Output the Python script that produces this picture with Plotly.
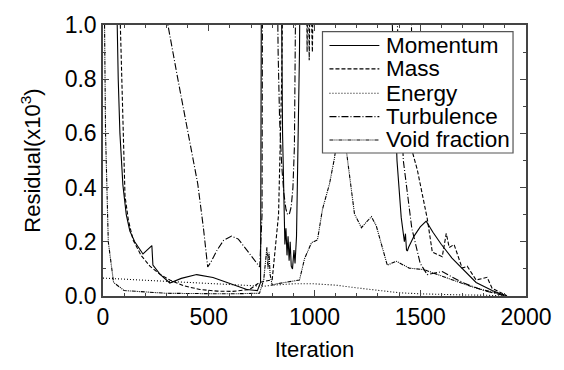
import plotly.graph_objects as go

# ---- data (iteration, residual x10^3) ----
mom_x = [60, 66, 72, 80, 94, 110, 127, 150, 189, 231, 236, 270, 316, 370, 443, 520, 600, 680,
         730, 745, 750,
         840, 849, 855, 860, 865, 870, 875, 880, 885, 890, 896, 903, 908, 915, 929, 935,
         1360, 1368, 1390, 1410, 1425, 1430, 1435, 1439, 1445, 1470, 1500, 1528, 1560, 1600,
         1650, 1698, 1764, 1840, 1906]
mom_y = [1.3, 1.0, 0.8, 0.6, 0.41, 0.3, 0.24, 0.2, 0.155, 0.186, 0.114, 0.08, 0.048, 0.065,
         0.079, 0.068, 0.045, 0.024, 0.02, 0.05, 1.5,
         1.5, 0.6, 0.35, 0.19, 0.25, 0.15, 0.22, 0.13, 0.2, 0.11, 0.1, 0.17, 0.12, 0.22, 0.9, 1.5,
         1.5, 1.0, 0.5, 0.29, 0.2, 0.23, 0.17, 0.166, 0.18, 0.22, 0.255, 0.276, 0.235, 0.19,
         0.14, 0.103, 0.05, 0.02, 0.0]

mass_x = [75, 82, 90, 104, 120, 142, 180, 222, 270, 316, 380, 458, 540, 613, 693, 740, 800,
          830, 845, 855,
          960, 965, 970, 975, 980, 990, 1000, 1455, 1462, 1486, 1510, 1533, 1557, 1604,
          1623, 1637, 1660, 1698, 1722, 1764, 1816, 1840, 1896, 1910]
mass_y = [1.2, 1.0, 0.7, 0.369, 0.28, 0.207, 0.15, 0.11, 0.08, 0.059, 0.038, 0.024, 0.018,
          0.017, 0.024, 0.05, 0.06, 0.3, 0.8, 1.5,
          1.5, 0.9, 1.3, 0.87, 1.2, 0.9, 1.5, 1.5, 0.534, 0.466, 0.38, 0.286, 0.162, 0.145,
          0.231, 0.179, 0.19, 0.103, 0.11, 0.059, 0.069, 0.028, 0.007, 0.0]

energy_x = [0, 100, 200, 300, 400, 500, 600, 700, 760, 800, 900, 1000, 1100, 1200,
            1300, 1400, 1500, 1600, 1700, 1800, 1900]
energy_y = [0.066, 0.062, 0.058, 0.054, 0.05, 0.046, 0.042, 0.038, 0.036, 0.04, 0.045, 0.045,
            0.04, 0.03, 0.02, 0.012, 0.008, 0.005, 0.004, 0.003, 0.0]

turb_x = [300, 307, 354, 401, 448, 475, 495, 510, 540, 570, 608, 640, 680, 720, 741, 752, 755,
          820, 828, 835, 845, 855, 865, 873, 882, 890, 898, 905, 910, 915,
          1385, 1392, 1420, 1460, 1500, 1533, 1570, 1604, 1650, 1700, 1800, 1906]
turb_y = [1.3, 1.0, 0.8, 0.6, 0.414, 0.25, 0.107, 0.125, 0.17, 0.205, 0.221, 0.21, 0.17,
          0.13, 0.107, 0.3, 1.5,
          1.5, 0.9, 0.65, 0.48, 0.38, 0.32, 0.30, 0.305, 0.33, 0.4, 0.55, 0.8, 1.5,
          1.5, 1.0, 0.5, 0.25, 0.12, 0.079, 0.085, 0.09, 0.07, 0.05, 0.02, 0.0]

void_x = [5, 12, 25, 50, 100, 300, 600, 740, 760, 775, 780, 785, 790, 800, 821, 929,
          953, 986, 1014, 1038, 1071, 1094, 1120, 1140, 1151, 1189, 1222, 1269, 1292,
          1344, 1387, 1448, 1519, 1560, 1650, 1760, 1900]
void_y = [1.2, 0.6, 0.2, 0.05, 0.02, 0.01, 0.008, 0.01, 0.06, 0.18, 0.1, 0.16, 0.08, 0.04,
          0.045, 0.059, 0.138, 0.197, 0.207, 0.321, 0.414, 0.507, 0.65, 0.66, 0.534, 0.303,
          0.252, 0.293, 0.259, 0.114, 0.128, 0.103, 0.097, 0.085, 0.06, 0.03, 0.004]

names = ["Momentum", "Mass", "Energy", "Turbulence", "Void fraction"]
dashes = ["solid", "4px,2px", "1px,2px", "7px,2px,1px,2px", "4px,1px,1px,1px,1px,1px"]
series = [(mom_x, mom_y), (mass_x, mass_y), (energy_x, energy_y),
          (turb_x, turb_y), (void_x, void_y)]

FONT = "Liberation Sans, Arial, sans-serif"
fig = go.Figure()
for (xs, ys), nm, ds in zip(series, names, dashes):
    fig.add_trace(go.Scatter(x=xs, y=ys, mode="lines", name=nm, showlegend=False,
                             line=dict(color="black", width=1.1, dash=ds)))

axis_common = dict(showgrid=False, zeroline=False, showline=True, linecolor="#444",
                   linewidth=1.5, mirror="allticks", ticks="inside", ticklen=6,
                   tickcolor="#444", tickwidth=1.3,
                   tickfont=dict(family=FONT, size=23, color="black"))
fig.update_xaxes(range=[0, 2000], dtick=500, tick0=0,
                 minor=dict(dtick=100, ticks="inside", ticklen=3, tickcolor="#444"),
                 title=dict(text="Iteration", font=dict(family=FONT, size=22, color="black"),
                            standoff=12),
                 **axis_common)
fig.update_yaxes(range=[0, 1], dtick=0.2, tick0=0, tickformat=".1f",
                 minor=dict(dtick=0.1, ticks="inside", ticklen=3, tickcolor="#444"),
                 title=dict(text="Residual(x10<sup>3</sup>)",
                            font=dict(family=FONT, size=22, color="black"), standoff=18),
                 **axis_common)

# ---- legend box drawn in paper coordinates ----
L, R, T, B = 103, 527, 15, 305
def px(x): return (x - L) / (R - L)
def py(y): return (B - y) / (B - T)

fig.add_shape(type="rect", xref="paper", yref="paper", x0=px(323), x1=px(514),
              y0=py(152), y1=py(22), line=dict(color="#555", width=1.2),
              fillcolor="white", layer="above")
rows = [37, 62, 88, 113, 138]
for nm, ds, yy in zip(names, dashes, rows):
    fig.add_shape(type="line", xref="paper", yref="paper", x0=px(330), x1=px(380),
                  y0=py(yy), y1=py(yy), line=dict(color="black", width=1.1, dash=ds),
                  layer="above")
    fig.add_annotation(xref="paper", yref="paper", x=px(385), y=py(yy), text=nm,
                       showarrow=False, xanchor="left", yanchor="middle",
                       font=dict(family=FONT, size=22.5, color="black"))

fig.update_layout(width=564, height=370, margin=dict(l=L, r=564 - R, t=T, b=370 - B),
                  plot_bgcolor="white", paper_bgcolor="white",
                  font=dict(family=FONT, size=22, color="black"))
fig.write_html("out.html")
